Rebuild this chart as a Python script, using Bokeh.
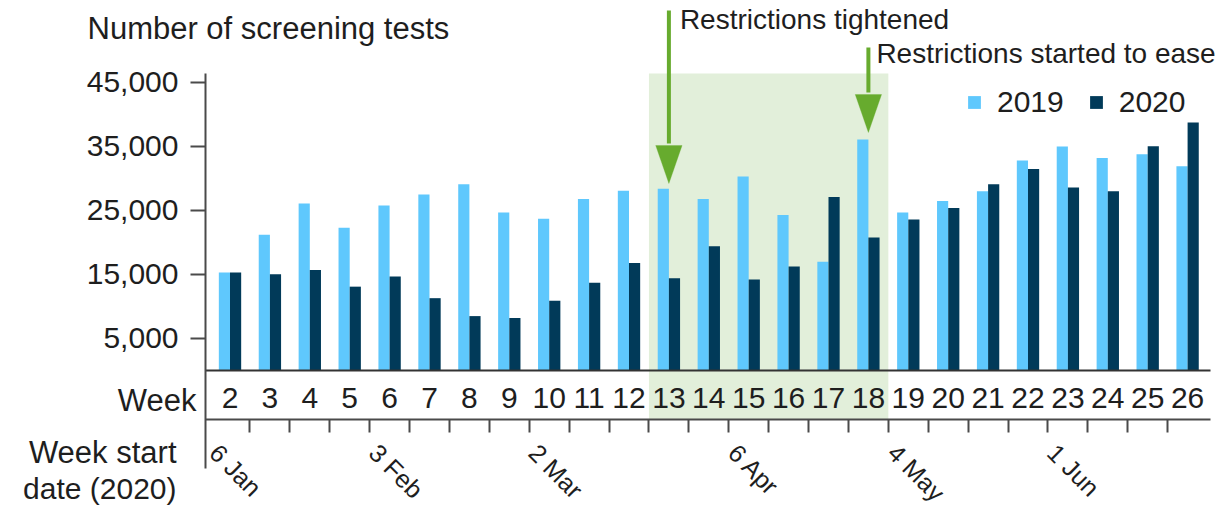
import math
from bokeh.plotting import figure
from bokeh.models import (Range1d, LinearAxis, FixedTicker, NumeralTickFormatter, BoxAnnotation,
                          Label, Legend, LegendItem, Arrow, PolyAnnotation, ColumnDataSource)
from bokeh.transform import dodge
from bokeh.embed import file_html
from bokeh.resources import INLINE

# ---------------- data ----------------
weeks = list(range(2, 27))
tests_2019 = [15300, 21200, 26100, 22300, 25800, 27500, 29100, 24700, 23700, 26800,
              28100, 28400, 26800, 30300, 24300, 17000, 36100, 24700, 26500, 28000,
              32800, 35000, 33200, 33800, 31900]
tests_2020 = [15300, 15050, 15700, 13100, 14700, 11300, 8500, 8200, 10900, 13700,
              16800, 14400, 19400, 14200, 16250, 27100, 20800, 23600, 25400, 29100,
              31500, 28600, 28000, 35050, 38750]
y_ticks = [5000, 15000, 25000, 35000, 45000]
date_labels = ["6 Jan", "3 Feb", "2 Mar", "6 Apr", "4 May", "1 Jun"]
date_weeks = [2, 6, 10, 15, 19, 23]
restriction_period = [13, 18]
event_weeks = [13, 18]
event_labels = ["Restrictions tightened", "Restrictions started to ease"]

# ---------------- style / layout ----------------
FONT = "Liberation Sans"
TXT = "#1e1e1e"
LINE = "#4a4a4a"
LIGHT = "#5fc8fd"
DARK = "#013a59"
GREEN = "#67ab2e"
SHADE = "#e2efda"

X_RANGE = (-3.752, 26.925)      # whole canvas
Y_RANGE = (-21875, 57812)       # whole canvas
PLOT_X = (1.386, 26.574)        # extent of the chart axes
PLOT_Y = (-15312, 46406)
ROW_LINE = -7656                # bottom of the week-number row

p = figure(width=1224, height=510, x_range=Range1d(*X_RANGE), y_range=Range1d(*Y_RANGE),
           output_backend="svg", toolbar_location=None, x_axis_location=None,
           y_axis_location=None, min_border=0)
p.grid.visible = False
p.outline_line_color = None
p.background_fill_color = "white"
p.border_fill_color = "white"

# y axis
yax = LinearAxis(fixed_location=PLOT_X[0], bounds=PLOT_Y, ticker=FixedTicker(ticks=y_ticks),
                 formatter=NumeralTickFormatter(format="0,0"))
yax.major_tick_out = 15
yax.major_tick_in = 0
yax.minor_tick_out = 0
yax.minor_tick_in = 0
yax.major_label_standoff = 12
yax.axis_line_color = LINE
yax.axis_line_width = 2
yax.major_tick_line_color = LINE
yax.major_tick_line_width = 2
yax.major_label_text_font = FONT
yax.major_label_text_font_size = "30px"
yax.major_label_text_color = TXT
p.add_layout(yax, "left")

# shaded restriction period
p.add_layout(BoxAnnotation(left=restriction_period[0] - 0.5, right=restriction_period[1] + 0.5,
                           bottom=ROW_LINE, top=PLOT_Y[1], fill_color=SHADE, fill_alpha=1,
                           line_color=None, level="underlay"))

# bars
src = ColumnDataSource(dict(week=weeks, y2019=tests_2019, y2020=tests_2020))
r1 = p.vbar(x=dodge("week", -0.14), top="y2019", width=0.28, source=src,
            fill_color=LIGHT, line_color=None)
r2 = p.vbar(x=dodge("week", 0.14), top="y2020", width=0.28, source=src,
            fill_color=DARK, line_color=None)

# week number axis (at baseline)
wax = LinearAxis(fixed_location=0, bounds=PLOT_X, ticker=FixedTicker(ticks=weeks))
wax.major_tick_out = 0
wax.major_tick_in = 0
wax.minor_tick_out = 0
wax.minor_tick_in = 0
wax.axis_line_color = "#333333"
wax.axis_line_width = 2
wax.major_label_standoff = 18
wax.major_label_text_font = FONT
wax.major_label_text_font_size = "30px"
wax.major_label_text_color = TXT
p.add_layout(wax, "below")

# week start date axis (labels sit at the start of their week)
dax = LinearAxis(fixed_location=ROW_LINE, bounds=PLOT_X,
                 ticker=FixedTicker(ticks=[w - 0.4 for w in date_weeks],
                                    minor_ticks=[w + 0.5 for w in weeks[:-1]]),
                 major_label_overrides={w - 0.4: lab for w, lab in zip(date_weeks, date_labels)})
dax.major_tick_out = 0
dax.major_tick_in = 0
dax.minor_tick_out = 13
dax.minor_tick_in = 0
dax.minor_tick_line_color = LINE
dax.minor_tick_line_width = 2
dax.axis_line_color = LINE
dax.axis_line_width = 2
dax.major_label_orientation = -math.pi / 4
dax.major_label_standoff = 16
dax.major_label_text_font = FONT
dax.major_label_text_font_size = "25px"
dax.major_label_text_color = TXT
p.add_layout(dax, "below")

# legend
legend = Legend(items=[LegendItem(label="2019", renderers=[r1]),
                       LegendItem(label="2020", renderers=[r2])],
                orientation="horizontal", location=(966, 391), glyph_width=16, glyph_height=16,
                label_standoff=15, spacing=24, padding=0, margin=0, border_line_color=None,
                background_fill_alpha=0, label_text_font=FONT, label_text_font_size="30px",
                label_text_color=TXT)
p.add_layout(legend)

# event arrows
shaft_top = [56250, 50469]
head_top = [35156, 43125]
tip = [29219, 37188]
label_y = [491, 457]
label_dx = [11, 8]
for w, st, ht, tp, txt, ly, dx in zip(event_weeks, shaft_top, head_top, tip, event_labels,
                                      label_y, label_dx):
    p.add_layout(Arrow(x_start=w, y_start=st, x_end=w, y_end=ht + 300, end=None,
                       line_color=GREEN, line_width=4))
    p.add_layout(PolyAnnotation(xs=[w - 0.33, w + 0.33, w], ys=[ht, ht, tp],
                                fill_color=GREEN, fill_alpha=1, line_color=GREEN, line_width=1))
    p.add_layout(Label(x=w, x_units="data", y=ly, y_units="screen", x_offset=dx, text=txt,
                       text_font=FONT, text_font_size="28px", text_color=TXT,
                       text_baseline="alphabetic"))


def screen_label(text, x, y, align="left", size="30px"):
    p.add_layout(Label(x=x, y=y, x_units="screen", y_units="screen", text=text,
                       text_font=FONT, text_font_size=size, text_color=TXT,
                       text_align=align, text_baseline="alphabetic"))


screen_label("Number of screening tests", 87, 482, size="31px")
screen_label("Week", 196, 110, "right", size="31px")
screen_label("Week start", 176, 58, "right", size="31px")
screen_label("date (2020)", 176, 22, "right")

open("out.html", "w").write(file_html(p, INLINE))
